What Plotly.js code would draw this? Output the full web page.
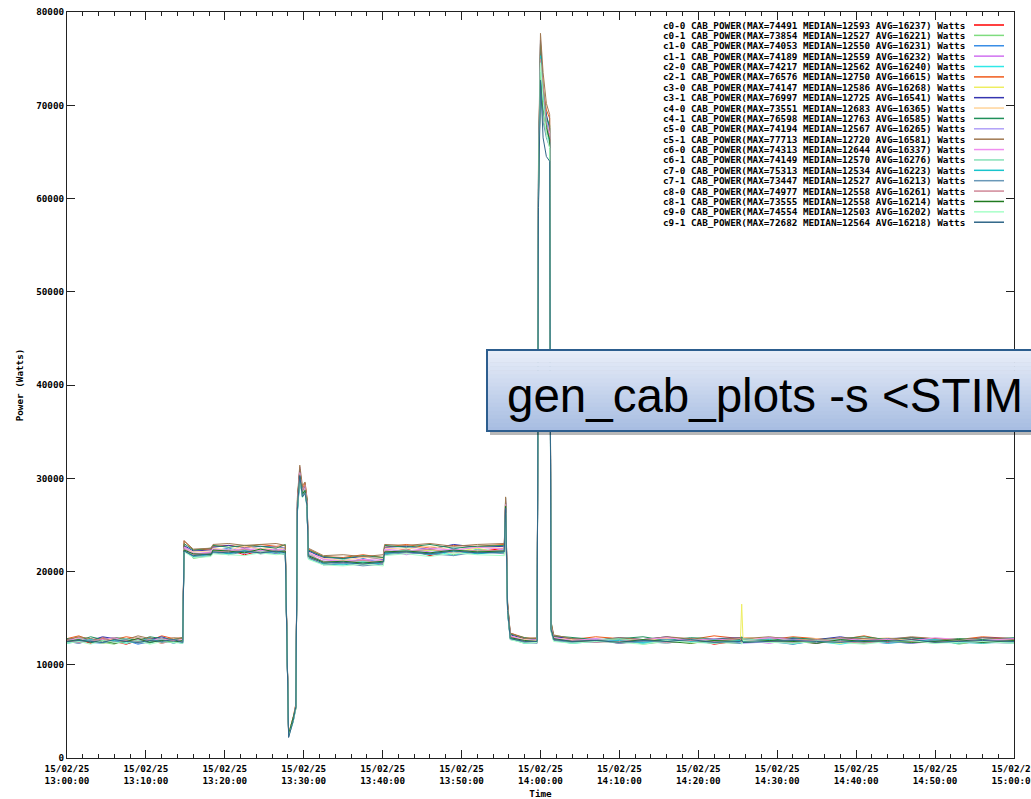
<!DOCTYPE html>
<html>
<head>
<meta charset="utf-8">
<script src="https://cdn.plot.ly/plotly-3.0.1.min.js"></script>
<style>html,body{margin:0;padding:0;background:#fff;}#chart{width:1031px;height:799px;}</style>
</head>
<body>
<div id="chart"></div>
<script>
// ---- data ----
const day = '2015-02-25 ';
const times = [
 '13:00:00','13:01:30','13:03:00','13:04:30','13:06:00','13:07:30','13:09:00','13:10:30','13:12:00','13:13:30','13:14:40',
 '13:14:50','13:16:00','13:18:15','13:18:30','13:20:30','13:22:30','13:24:30','13:26:30','13:27:40',
 '13:28:05','13:28:40','13:29:00','13:29:12','13:29:30','13:29:50','13:30:10','13:30:25','13:30:35',
 '13:32:30','13:35:00','13:37:30','13:40:05',
 '13:40:15','13:43:00','13:46:00','13:49:00','13:52:00','13:55:25',
 '13:55:35','13:55:50','13:56:10','13:58:00','13:59:35',
 '13:59:45','14:00:00','14:00:20','14:00:45','14:01:10','14:01:20','14:01:40',
 '14:04:00','14:07:00','14:10:00','14:13:00','14:16:00','14:19:00','14:22:00','14:25:20','14:25:30','14:25:40',
 '14:29:00','14:32:00','14:35:00','14:38:00','14:41:00','14:44:00','14:47:00','14:50:00','14:53:00','14:56:00','15:00:00'
];

const c0_0 = [12400,12700,12300,12800,12500,12200,12600,12900,12400,12600,12500, 22600,21600,21900,22100,22300,21800,22200,22400,22000, 2600,4200,5300,26500,30200,28100,28700,27100,21500, 21000,20900,21300,20800, 22000,22400,21700,22300,22100,22500, 26200,15800,13100,12400,12700, 60500,74491,69800,67500,66400,13900,12900, 12400,12700,12300,12600,12500,12800,12200,12600,12500,12700,12400,12600,12300,12800,12500,12400,12700,12600,12300,12500,12600];
const c0_1 = [12600,12300,12700,12400,12200,12800,12500,12300,12900,12400,12600, 22900,21400,21700,22300,22000,22400,21900,22100,22300, 2400,3900,5600,27200,30800,28400,29300,27400,22100, 20800,21200,20700,21000, 21900,22100,22400,21800,22300,22000, 27300,16200,12800,12300,12500, 61500,73854,68900,66800,67900,14200,12700, 12300,12600,12800,12200,12500,12700,12400,12300,12800,12500,12600,12200,12700,12400,12300,12600,12500,12800,12200,12600,12400];
const c1_0 = [12500,12800,12400,12300,12700,12600,12200,12500,12700,12300,12600, 22400,21800,22000,22200,22500,22100,22300,21900,22400, 2700,4100,5400,26800,30100,28700,28900,27000,21700, 21100,20800,21400,20900, 22100,22300,21900,22500,22000,22200, 26700,15500,13000,12500,12400, 62800,74053,70200,67200,66100,13800,12800, 12600,12400,12700,12300,12500,12600,12800,12400,12300,12700,12500,12200,12600,12700,12400,12500,12300,12800,12600,12400,12500];
const c1_1 = [12700,12400,12600,12300,12800,12500,12400,12700,12300,12600,12700, 22700,22000,21800,22400,22100,22300,22500,22000,22200, 2300,4300,5500,27500,31200,28000,28600,27600,22300, 21300,21000,20800,21300, 22300,21800,22200,22400,21900,22400, 27800,16400,13300,12600,12500, 59800,74189,69300,68200,65800,14400,13000, 12500,12800,12400,12600,12300,12700,12500,12900,12400,12600,12300,12700,12500,12400,12800,12600,12300,12500,12700,12400,12600];
const c2_0 = [12300,12600,12800,12400,12600,12300,12700,12400,12600,12500,12400, 22500,21700,22100,22300,21900,22200,22000,22400,22100, 2500,4000,5700,26300,29800,28300,29100,26900,21900, 20900,21300,21000,21100, 22000,22200,22300,21700,22400,22100, 27100,16100,12900,12400,12600, 61000,74217,71500,68800,66700,14100,12700, 12400,12500,12700,12300,12600,12400,12700,12500,12300,12600,12800,12400,12500,12200,12600,12700,12400,12500,12300,12700,12500];
const c2_1 = [12800,13100,12600,12900,12700,13000,12800,12600,13100,12800,12900, 23300,22300,22400,22700,22800,22600,22900,22700,22800, 2600,4400,5800,27800,30900,28900,29500,27800,22400, 21600,21500,21800,21500, 22600,22900,22500,22800,22700,22900, 27600,16600,13400,12900,12800, 63500,76576,71800,69500,68600,14500,13100, 12700,13000,12800,12600,12900,12700,13100,12800,12600,12900,12700,13000,12800,12700,13100,12600,12900,12800,12700,13000,12800];
const c3_0 = [12400,12600,12700,12300,12500,12800,12400,12600,12300,12700,12500, 22300,21900,21700,22200,22400,22000,22300,22100,22200, 2400,4100,5200,27000,30300,28200,28800,27200,21600, 21000,21200,20900,21200, 22200,22000,22300,22100,22500,21900, 26500,15900,12800,12500,12600, 60200,74147,73000,67000,66300,13700,12800, 12500,12700,12400,12600,12800,12300,12600,12500,16500,12700,12400,12600,12500,12300,12700,12600,12400,12800,12500,12300,12600];
const c3_1 = [12700,12900,12600,13000,12800,12600,12900,12700,13000,12600,12800, 22800,22200,22300,22600,22800,22500,22700,22600,22500, 2500,4200,5600,27400,31000,28600,29200,27500,22200, 21500,21400,21600,21300, 22600,22700,22400,22900,22600,22700, 27400,16300,13200,12800,12700, 62000,76997,70500,69000,67500,14300,13000, 12800,12600,12900,12700,13000,12600,12800,12900,12700,12600,12900,12800,12700,13000,12600,12800,12900,12700,12600,12900,12800];
const c4_0 = [12600,12900,12700,12500,12800,12600,12900,12700,12500,12800,12700, 22500,22100,22200,22500,22300,22700,22400,22600,22400, 2700,4300,5500,26900,30400,28300,28900,27300,22000, 21400,21200,21500,21400, 22500,22400,22700,22300,22600,22500, 27000,16100,13100,12700,12600, 61200,73551,68500,67700,66900,14000,12900, 12700,12500,12800,12600,12900,12700,12500,12800,12600,12900,12700,12600,12800,12500,12700,12900,12600,12700,12800,12600,12700];
const c4_1 = [12800,12600,13000,12700,12900,12800,12600,13000,12800,12700,12900, 23000,22300,22500,22800,22600,22800,22700,22500,22900, 2600,4100,5400,27600,30700,28800,29000,27700,22300, 21600,21400,21700,21500, 22800,22600,22900,22500,22700,22800, 27900,16500,13300,12900,12700, 63000,76598,72000,68700,67800,14600,13100, 12900,12700,12800,13000,12600,12900,12800,12700,13000,12800,12600,12900,12700,12800,13000,12700,12900,12600,12800,12700,12900];
const c5_0 = [12500,12300,12700,12600,12400,12800,12300,12600,12500,12700,12400, 22200,21800,22000,22100,22400,21900,22300,22200,22100, 2500,4000,5500,26700,30000,28500,28700,27000,21800, 21100,20900,21200,21000, 22100,22300,22000,22400,21900,22200, 26800,15700,12900,12500,12500, 60800,74194,69500,67400,66200,13900,12800, 12500,12700,12300,12600,12500,12800,12400,12600,12700,12300,12500,12600,12400,12700,12500,12300,12600,12800,12400,12500,12600];
const c5_1 = [12700,13000,12800,12600,12900,12700,13100,12800,12600,12900,12800, 23300,22400,22500,22900,23000,22800,22900,23000,22800, 2400,4200,5700,28000,31400,29200,29600,27900,22500, 21700,21800,21600,21800, 22900,22800,23000,22700,22900,23000, 28000,16700,13400,12800,12900, 64000,77713,73500,70200,69000,14700,13200, 12800,12600,12900,12700,13000,12800,12600,12900,12700,12800,13000,12700,12600,12900,12800,12700,13000,12800,12600,12900,12700];
const c6_0 = [12600,12800,12500,12700,12900,12500,12700,12600,12800,12500,12700, 22600,21900,22100,22400,22200,22500,22200,22400,22300, 2300,4000,5400,27100,30600,28300,29000,27300,22000, 21300,21100,21300,21200, 22400,22200,22500,22300,22600,22400, 27200,16000,13100,12600,12700, 61800,74313,70800,68300,67000,14100,12900, 12600,12800,12500,12700,12900,12600,12800,12500,12700,12600,12900,12700,12500,12800,12600,12700,12500,12900,12700,12600,12800];
const c6_1 = [12400,12700,12500,12300,12600,12800,12400,12500,12700,12300,12600, 22400,21700,21900,22200,22000,22300,22100,22200,22000, 2600,4300,5600,26600,30300,28400,28800,27100,21700, 21000,20800,21100,20900, 22000,22300,21800,22200,22100,22300, 26900,15900,12900,12400,12500, 60600,74149,69000,67900,65900,13800,12700, 12400,12600,12800,12500,12300,12700,12500,12600,12400,12800,12500,12300,12600,12700,12400,12600,12500,12300,12700,12500,12400];
const c7_0 = [12300,12500,12700,12400,12600,12300,12500,12800,12400,12500,12300, 22200,21600,21800,22100,21900,22200,22000,22100,21900, 2400,3900,5300,26400,29900,28000,28500,26800,21400, 20800,20700,21000,20800, 21900,22100,21800,22200,21900,22100, 26400,15600,12800,12300,12400, 62400,75313,71000,68100,66000,13700,12600, 12300,12500,12600,12400,12700,12500,12300,12600,12400,12500,12700,12300,12500,12400,12600,12300,12500,12700,12400,12300,12500];
const c7_1 = [12500,12300,12600,12400,12500,12700,12300,12400,12600,12500,12300, 22300,21500,21700,22000,21800,22100,21900,22000,21800, 2500,4000,5500,26600,30100,28100,28600,27000,21500, 20700,20900,20600,20800, 21800,22000,21900,21700,22100,21900, 26600,15700,12700,12400,12300, 59500,73447,68200,66500,65500,13600,12600, 12400,12600,12300,12500,12700,12400,12500,12300,12600,12400,12500,12700,12300,12600,12400,12500,12300,12600,12500,12400,12300];
const c8_0 = [12600,12400,12500,12800,12300,12600,12500,12700,12300,12600,12500, 22400,21800,22000,22200,22100,22400,22000,22300,22100, 2600,4100,5500,26900,30500,28600,29300,27200,21800, 21100,21000,21200,20900, 22200,22100,22400,22000,22300,22200, 27200,16000,13000,12500,12400, 61600,74977,72200,68000,66600,13900,12700, 12600,12400,12500,12700,12400,12600,12500,12800,12300,12600,12500,12400,12700,12500,12300,12600,12500,12400,12700,12500,12600];
const c8_1 = [12500,12700,12400,12600,12300,12500,12800,12400,12600,12400,12600, 22300,21900,21800,22300,22200,22000,22400,22100,22200, 2500,4200,5400,26800,30200,28300,28700,27100,21700, 21000,21100,20900,21100, 22100,22200,22000,22300,22100,22200, 27000,15900,12900,12600,12500, 61000,73555,69600,67600,66300,13900,12800, 12500,12600,12400,12700,12500,12300,12600,12500,12700,12400,12600,12500,12300,12700,12500,12600,12400,12500,12700,12400,12600];
const c9_0 = [12300,12500,12200,12600,12400,12300,12600,12200,12500,12400,12300, 22100,21500,21600,21900,21800,21700,22000,21800,21900, 2300,3900,5300,26500,29900,27900,28400,26900,21300, 20700,20600,20800,20600, 21700,21900,21600,22000,21800,21700, 26300,15500,12700,12300,12400, 60000,74554,70400,66900,65400,13600,12500, 12300,12500,12400,12200,12600,12400,12300,12500,12200,12600,12400,12300,12500,12400,12200,12500,12600,12300,12400,12500,12300];
const c9_1 = [12500,12600,12500,12400,12700,12500,12400,12600,12500,12700,12400, 22200,21700,21900,22100,22000,22200,22000,22200,22000, 2200,4000,5500,26700,30300,28000,28400,27000,21600, 20900,21000,20800,21000, 22000,22100,21900,22200,22000,22100, 26800,15800,12800,12500,12500, 59000,72682,66500,64500,64000,13800,12700, 12500,12600,12400,12600,12500,12700,12400,12500,12600,12400,12500,12600,12500,12400,12600,12500,12700,12400,12500,12600,12500];

const names   = ['c0-0','c0-1','c1-0','c1-1','c2-0','c2-1','c3-0','c3-1','c4-0','c4-1','c5-0','c5-1','c6-0','c6-1','c7-0','c7-1','c8-0','c8-1','c9-0','c9-1'];
const maxes   = [74491,73854,74053,74189,74217,76576,74147,76997,73551,76598,74194,77713,74313,74149,75313,73447,74977,73555,74554,72682];
const medians = [12593,12527,12550,12559,12562,12750,12586,12725,12683,12763,12567,12720,12644,12570,12534,12527,12558,12558,12503,12564];
const avgs    = [16237,16221,16231,16232,16240,16615,16268,16541,16365,16585,16265,16581,16337,16276,16223,16213,16261,16214,16202,16218];
const series  = [c0_0,c0_1,c1_0,c1_1,c2_0,c2_1,c3_0,c3_1,c4_0,c4_1,c5_0,c5_1,c6_0,c6_1,c7_0,c7_1,c8_0,c8_1,c9_0,c9_1];
const calloutText = 'gen_cab_plots -s <STIM';

// ---- styles ----
const colors = ['#ff0000','#7fdc7f','#3a8ee6','#d070f0','#30e8e8','#f05a1a','#eeee60','#3535b0','#ffd49a','#20905a',
                '#b0a0f8','#a07850','#f08ef0','#88e0b8','#18c4cc','#6a98b8','#d08898','#1f7a1f','#a8ffc8','#2f6688'];
const fontFam = '"DejaVu Sans Mono", "Liberation Mono", monospace';
const W = 1031, H = 799;
const L = 67, R = 1014, T = 12, B = 758;
const px2x = p => (p - L) / (R - L);
const py2y = p => (B - p) / (B - T);

const xs = times.map(t => day + t);
const traces = series.map((s, i) => ({
  x: xs, y: s, type: 'scatter', mode: 'lines',
  line: {color: colors[i], width: 1}, name: names[i],
  showlegend: false, hoverinfo: 'skip'
}));

const shapes = [];
const annotations = [];
// gnuplot-style key: right aligned text, line sample on the right
names.forEach((n, i) => {
  const yy = 25 + 10.38 * i;
  annotations.push({
    xref: 'paper', yref: 'paper', x: px2x(967), y: py2y(yy), xanchor: 'right', yanchor: 'middle',
    text: '<b>' + n + ' CAB_POWER(MAX=' + maxes[i] + ' MEDIAN=' + medians[i] + ' AVG=' + avgs[i] + ') Watts</b>',
    showarrow: false, font: {family: fontFam, size: 9.3, color: '#000'}
  });
  shapes.push({type: 'line', xref: 'paper', yref: 'paper', x0: px2x(974), x1: px2x(1004), y0: py2y(yy), y1: py2y(yy),
    line: {color: colors[i], width: 1.5}});
});

// callout box with vertical gradient
const bx0 = 487, bx1 = 1045, by0 = 350, by1 = 431;
shapes.push({type: 'rect', xref: 'paper', yref: 'paper', x0: px2x(bx0 + 3), x1: px2x(bx1 + 3), y0: py2y(by0 + 4), y1: py2y(by1 + 4),
  fillcolor: 'rgba(0,0,0,0.28)', line: {width: 0}, layer: 'above'});
const gTop = [233, 238, 249], gBot = [166, 188, 225];
const nb = 20;
for (let k = 0; k < nb; k++) {
  const f = (k + 0.5) / nb;
  const c = gTop.map((v, j) => Math.round(v + (gBot[j] - v) * f));
  const ya = by0 + (by1 - by0) * k / nb, yb = by0 + (by1 - by0) * (k + 1) / nb + 0.6;
  shapes.push({type: 'rect', xref: 'paper', yref: 'paper', x0: px2x(bx0), x1: px2x(bx1), y0: py2y(ya), y1: py2y(yb),
    fillcolor: 'rgb(' + c.join(',') + ')', line: {width: 0}, layer: 'above'});
}
shapes.push({type: 'rect', xref: 'paper', yref: 'paper', x0: px2x(bx0), x1: px2x(bx1), y0: py2y(by0), y1: py2y(by1),
  fillcolor: 'rgba(0,0,0,0)', line: {color: '#2c5d8e', width: 2}, layer: 'above'});
annotations.push({xref: 'paper', yref: 'paper', x: px2x(505), y: py2y(395), xanchor: 'left', yanchor: 'middle',
  text: calloutText.replace(/</g, '&lt;'), showarrow: false,
  font: {family: '"Liberation Sans", Arial, sans-serif', size: 47.5, color: '#000'}});

const axisCommon = {
  showline: true, linecolor: '#222', linewidth: 1, mirror: 'allticks',
  ticks: 'inside', ticklen: 8, tickcolor: '#222', showgrid: false, zeroline: false,
  ticklabeloverflow: 'allow',
  tickfont: {family: fontFam, size: 9.3, color: '#000', weight: 'bold'}
};

const layout = {
  width: W, height: H,
  margin: {l: L, r: W - R, t: T, b: H - B, pad: 0},
  paper_bgcolor: '#fff', plot_bgcolor: '#fff',
  showlegend: false,
  xaxis: Object.assign({}, axisCommon, {
    type: 'date', range: [day + '13:00:00', day + '15:00:00.5'],
    tick0: day + '13:00:00', dtick: 600000, tickformat: '%y/%m/%d<br>%H:%M:%S',
    ticklabelstandoff: 2,
    minor: {dtick: 120000, ticks: 'inside', ticklen: 4, tickcolor: '#222', showgrid: false},
    title: {text: 'Time', standoff: 8, font: {family: fontFam, size: 9.3, color: '#000', weight: 'bold'}}
  }),
  yaxis: Object.assign({}, axisCommon, {
    range: [0, 80000], dtick: 10000, tickformat: 'd',
    title: {text: 'Power (Watts)', standoff: 10, font: {family: fontFam, size: 9.3, color: '#000', weight: 'bold'}}
  }),
  shapes: shapes,
  annotations: annotations
};

Plotly.newPlot('chart', traces, layout, {staticPlot: true, displayModeBar: false});
</script>
</body>
</html>
